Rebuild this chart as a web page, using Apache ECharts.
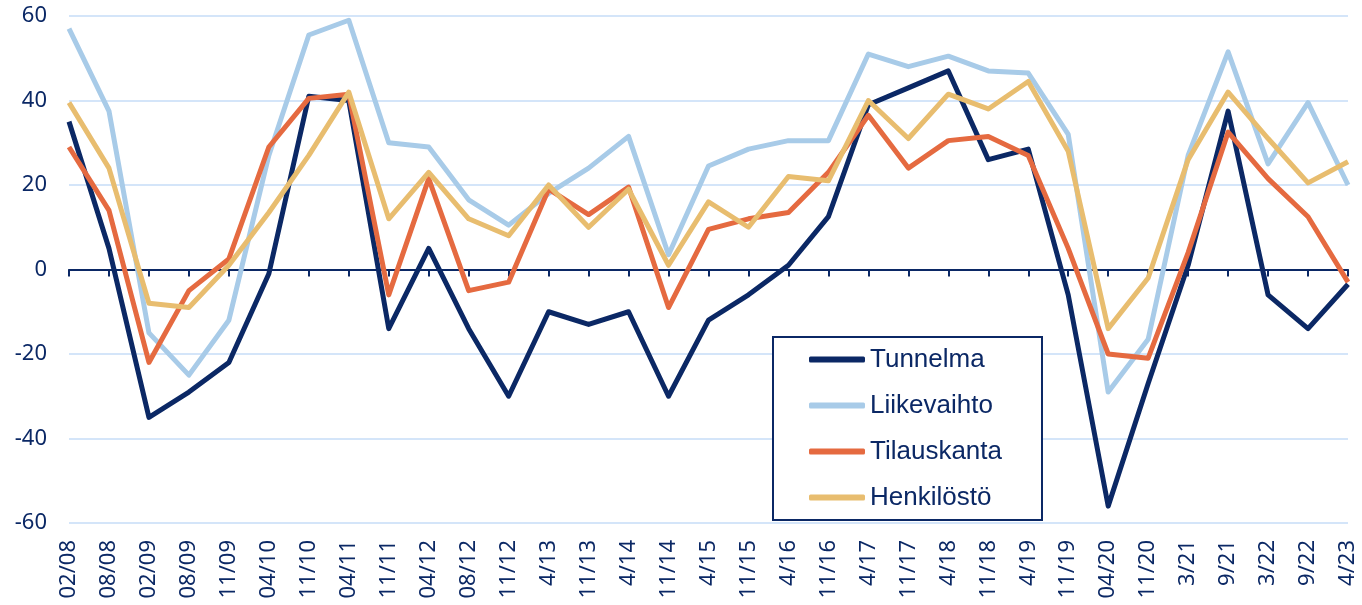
<!DOCTYPE html>
<html>
<head>
<meta charset="utf-8">
<script src="https://cdn.jsdelivr.net/npm/echarts@6/dist/echarts.min.js"></script>
<style>
html, body { margin: 0; padding: 0; background: #fff; }
#main { width: 1362px; height: 605px; }
</style>
</head>
<body>
<div id="main"></div>
<script>
var categories = ['02/08', '08/08', '02/09', '08/09', '11/09', '04/10', '11/10', '04/11', '11/11', '04/12',
    '08/12', '11/12', '4/13', '11/13', '4/14', '11/14', '4/15', '11/15', '4/16', '11/16',
    '4/17', '11/17', '4/18', '11/18', '4/19', '11/19', '04/20', '11/20', '3/21', '9/21',
    '3/22', '9/22', '4/23'];

var tunnelma = [35, 5, -35, -29, -22, -1, 41, 40, -14, 5,
    -14, -30, -10, -13, -10, -30, -12, -6, 1, 12.5,
    39, 43, 47, 26, 28.5, -6, -56, -27, 1, 37.5,
    -6, -14, -3.5];
var liikevaihto = [57, 37.5, -15, -25, -12, 27, 55.5, 59, 30, 29,
    16.5, 10.5, 18, 24, 31.5, 3.5, 24.5, 28.5, 30.5, 30.5,
    51, 48, 50.5, 47, 46.5, 32, -29, -16.5, 27, 51.5,
    25, 39.5, 20];
var tilauskanta = [29, 14, -22, -5, 2.5, 29, 40.5, 41.5, -6, 21.5,
    -5, -3, 19, 13, 19.5, -9, 9.5, 12, 13.5, 23,
    36.5, 24, 30.5, 31.5, 27, 5, -20, -21, 4, 32.5,
    21.5, 12.5, -3];
var henkilosto = [39.5, 24, -8, -9, 1, 13.5, 27, 42, 12, 23,
    12, 8, 20, 10, 19, 1, 16, 10, 22, 21,
    40, 31, 41.5, 38, 44.5, 28, -14, -2, 26, 42,
    31, 20.5, 25.5];

var yTicks = [-60, -40, -20, 0, 20, 40, 60];

var navy = '#0b2865';
var myChart = echarts.init(document.getElementById('main'));

function line(name, data, color) {
    return {
        name: name,
        type: 'line',
        data: data,
        xAxisIndex: 0,
        yAxisIndex: 0,
        symbol: 'none',
        lineStyle: { color: color, width: 5, join: 'round' },
        itemStyle: { color: color },
        animation: false
    };
}

// main plot: top 16, height 507 -> value 0 sits at 16 + 507 / 2
var plotTop = 16, plotBottom = 82, chartH = 605;
var zeroY = plotTop + (chartH - plotTop - plotBottom) / 2;

var option = {
    backgroundColor: '#fff',
    grid: [
        { left: 69, right: 14, top: plotTop, bottom: plotBottom, outerBoundsMode: 'none' },
        // upper half only, its bottom edge is the zero line (carries the ticks)
        { left: 69, right: 14, top: plotTop, bottom: chartH - zeroY, outerBoundsMode: 'none' }
    ],
    legend: {
        orient: 'vertical',
        left: 773,
        top: 337,
        icon: 'roundRect',
        itemWidth: 56,
        itemHeight: 6,
        itemGap: 15,
        padding: [7, 40, 7, 36],
        borderColor: navy,
        borderWidth: 2,
        backgroundColor: '#fff',
        z: 10,
        textStyle: {
            fontFamily: 'Liberation Sans, Arial, sans-serif',
            fontSize: 26,
            lineHeight: 31,
            color: navy
        },
        data: ['Tunnelma', 'Liikevaihto', 'Tilauskanta', 'Henkilöstö']
    },
    xAxis: [{
        gridIndex: 0,
        type: 'category',
        position: 'bottom',
        data: categories,
        boundaryGap: false,
        axisLine: { show: false, onZero: false },
        axisTick: { show: false },
        axisLabel: {
            rotate: 90,
            margin: 17,
            interval: 0,
            fontFamily: 'Noto Sans',
            fontSize: 22,
            color: navy
        },
        splitLine: { show: false }
    }, {
        gridIndex: 1,
        type: 'category',
        position: 'bottom',
        data: categories,
        boundaryGap: false,
        axisLine: { show: true, onZero: false, lineStyle: { color: navy, width: 2 } },
        axisTick: { show: true, length: 7, interval: 0, lineStyle: { color: navy, width: 2 } },
        axisLabel: { show: true, interval: 0, color: 'rgba(0,0,0,0)', fontSize: 8 },
        splitLine: { show: false }
    }],
    yAxis: [{
        gridIndex: 0,
        type: 'value',
        min: yTicks[0],
        max: yTicks[yTicks.length - 1],
        interval: 20,
        axisLine: { show: false },
        axisTick: { show: false },
        axisLabel: {
            margin: 22,
            fontFamily: 'Noto Sans',
            fontSize: 22,
            color: navy
        },
        splitLine: { lineStyle: { color: '#c6dcf7', width: 1.5 } }
    }, {
        gridIndex: 1,
        type: 'value',
        min: 0,
        max: yTicks[yTicks.length - 1],
        interval: 20,
        show: false
    }],
    series: [
        line('Tunnelma', tunnelma, navy),
        line('Liikevaihto', liikevaihto, '#a8cbe8'),
        line('Tilauskanta', tilauskanta, '#e56a40'),
        line('Henkilöstö', henkilosto, '#e8bd6f')
    ]
};

myChart.setOption(option);
</script>
</body>
</html>
